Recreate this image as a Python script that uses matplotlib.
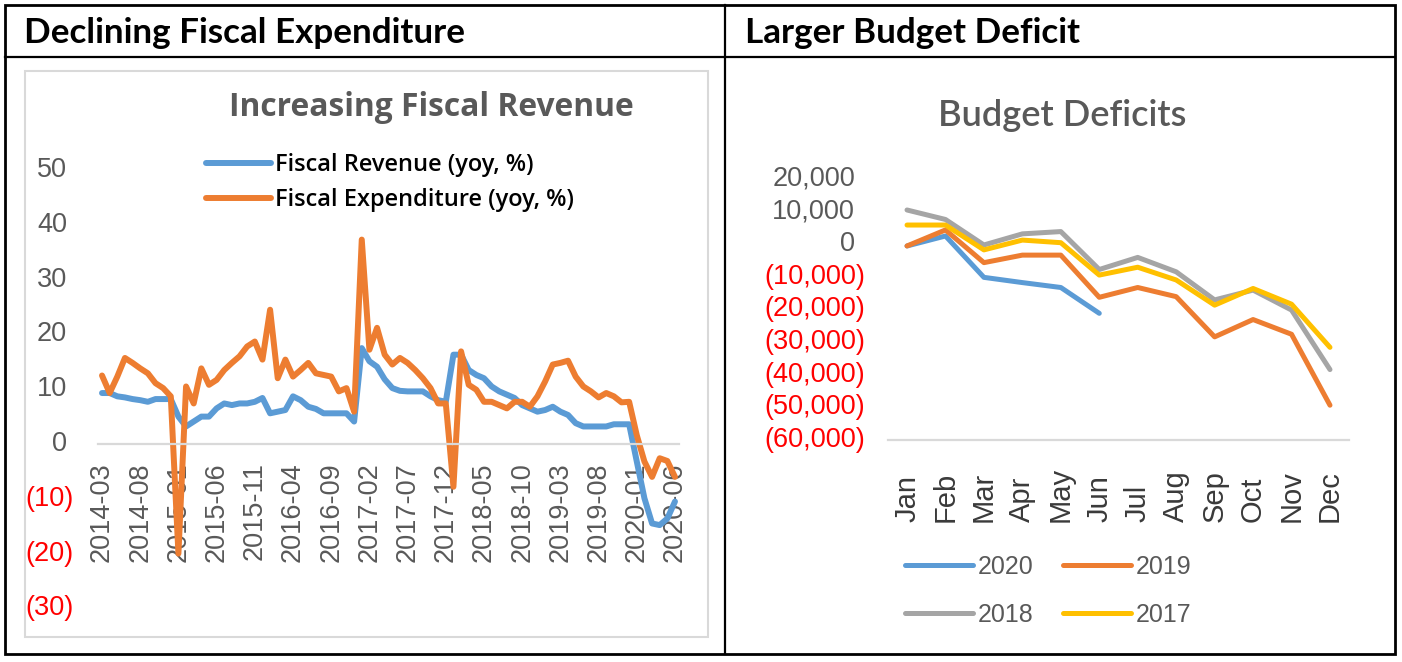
import matplotlib
matplotlib.use("Agg")
import matplotlib.pyplot as plt
from matplotlib.patches import Rectangle
from matplotlib.lines import Line2D

# ---------------- data ----------------
months = []
for y in range(2014, 2021):
    for m in range(1, 13):
        if (y == 2014 and m < 3) or (y == 2020 and m > 6):
            continue
        months.append(f"{y}-{m:02d}")

revenue = [9.3, 9.3, 8.7, 8.5, 8.2, 8.0, 7.7, 8.2, 8.2, 8.2,
           5.0, 3.2, 4.1, 5.0, 5.0, 6.5, 7.4, 7.1, 7.4, 7.4,
           7.7, 8.4, 5.6, 5.9, 6.2, 8.7, 8.0, 6.8, 6.4, 5.6,
           5.6, 5.6, 5.6, 4.1, 17.5, 15.1, 14.1, 11.8, 10.2, 9.7,
           9.6, 9.6, 9.6, 8.7, 8.0, 7.7, 16.3, 16.3, 13.5, 12.6,
           12.0, 10.5, 9.6, 9.0, 8.4, 7.1, 6.5, 5.9, 6.2, 6.8,
           5.9, 5.3, 3.8, 3.2, 3.2, 3.2, 3.2, 3.6, 3.6, 3.6,
           -3.2, -9.9, -14.5, -14.8, -13.6, -10.5]

expenditure = [12.5, 9.3, 12.3, 15.7, 14.8, 13.8, 12.9, 11.1, 10.2, 8.7,
               -20.0, 10.5, 7.4, 13.8, 10.8, 11.7, 13.5, 14.8, 16.0, 17.8,
               18.7, 15.4, 24.5, 12.0, 15.4, 12.3, 13.5, 14.8, 12.9, 12.6,
               12.3, 9.6, 10.2, 5.9, 37.3, 17.2, 21.2, 16.3, 14.5, 15.7,
               14.8, 13.5, 12.0, 10.2, 7.4, 7.4, -7.8, 16.9, 10.8, 9.9,
               7.7, 7.7, 7.1, 6.5, 7.7, 7.7, 6.8, 8.7, 11.4, 14.5,
               14.8, 15.2, 12.3, 10.5, 9.6, 8.5, 9.3, 8.7, 7.6, 7.7,
               1.6, -3.2, -6.0, -2.6, -3.1, -6.0]

left_yticks = [-30, -20, -10, 0, 10, 20, 30, 40, 50]

month_names = ["Jan", "Feb", "Mar", "Apr", "May", "Jun",
               "Jul", "Aug", "Sep", "Oct", "Nov", "Dec"]
deficit_2020 = [-600, 2450, -10200, -11800, -13300, -21200]
deficit_2019 = [-600, 4300, -5700, -3400, -3400, -16300, -13300, -16100,
                -28400, -23100, -27600, -49300]
deficit_2018 = [10400, 7500, -300, 3100, 3800, -7800, -4100, -8500,
                -17100, -14100, -20200, -38400]
deficit_2017 = [5800, 5800, -1800, 1200, 400, -9500, -7100, -11000,
                -18700, -13600, -18400, -31600]
right_yticks = [-60000, -50000, -40000, -30000, -20000, -10000, 0, 10000, 20000]

# ---------------- style ----------------
W, H = 1402, 662
BLUE, ORANGE, GRAY, YELLOW = "#5B9BD5", "#ED7D31", "#A5A5A5", "#FFC000"
TXT = "#595959"
RED = "#FF0000"
AX_LINE = "#D9D9D9"
TICK_FONT = ["Liberation Sans", "DejaVu Sans"]
UI_FONT = ["Lato", "DejaVu Sans"]
WIDE_FONT = ["Open Sans", "DejaVu Sans"]

fig = plt.figure(figsize=(W / 100, H / 100), dpi=100)


def fx(x):
    return x / W


def fy(y):
    return 1 - y / H


def add_axes_px(x0, y0, x1, y1):
    return fig.add_axes([fx(x0), fy(y1), fx(x1) - fx(x0), fy(y0) - fy(y1)])


# ---- table borders ----
fig.add_artist(Rectangle((fx(5), fy(654)), fx(1395) - fx(5), fy(5) - fy(654),
                         transform=fig.transFigure, fill=False,
                         edgecolor="black", lw=2.0))
fig.add_artist(Line2D([fx(5), fx(1395)], [fy(57), fy(57)],
                      transform=fig.transFigure, color="black", lw=1.6))
fig.add_artist(Line2D([fx(725), fx(725)], [fy(5), fy(654)],
                      transform=fig.transFigure, color="black", lw=1.6))

fig.text(fx(24), fy(33), "Declining Fiscal Expenditure", family=UI_FONT,
         weight="bold", fontsize=25.2, color="black", ha="left", va="center")
fig.text(fx(745), fy(33), "Larger Budget Deficit", family=UI_FONT,
         weight="bold", fontsize=25.2, color="black", ha="left", va="center")

# left chart area box
fig.add_artist(Rectangle((fx(25), fy(637)), fx(708) - fx(25), fy(71) - fy(637),
                         transform=fig.transFigure, fill=False,
                         edgecolor=AX_LINE, lw=1.5))

# ---------------- left chart ----------------
axL = add_axes_px(98.2, 170, 678.8, 608.4)
xs = list(range(len(months)))
lr, = axL.plot(xs, revenue, color=BLUE, lw=4.3, solid_joinstyle="round",
               solid_capstyle="round", label="Fiscal Revenue (yoy, %)")
le, = axL.plot(xs, expenditure, color=ORANGE, lw=4.3, solid_joinstyle="round",
               solid_capstyle="round", label="Fiscal Expenditure (yoy, %)")
axL.set_xlim(-0.5, len(months) - 0.5)
axL.set_ylim(-30, 50)
for s in ["top", "right", "left"]:
    axL.spines[s].set_visible(False)
axL.spines["bottom"].set_position(("data", 0))
axL.spines["bottom"].set_color(AX_LINE)
axL.spines["bottom"].set_linewidth(1.6)
axL.set_yticks(left_yticks)
axL.set_yticklabels([])
axL.tick_params(axis="y", length=0)
tick_idx = list(range(0, len(months), 5))
axL.set_xticks(tick_idx)
axL.set_xticklabels([months[i] for i in tick_idx], rotation=90,
                    family=TICK_FONT, fontsize=19.5, color=TXT)
axL.tick_params(axis="x", length=0, pad=13)
ytr = axL.get_yaxis_transform()
for v in left_yticks:
    if v < 0:
        axL.text(-0.0417, v, f"({abs(v)})", transform=ytr, ha="right",
                 va="center", family=TICK_FONT, fontsize=19.5, color=RED)
    else:
        axL.text(-0.0537, v, f"{v}", transform=ytr, ha="right",
                 va="center", family=TICK_FONT, fontsize=19.5, color=TXT)

fig.text(fx(431), fy(108), "Increasing Fiscal Revenue", family=WIDE_FONT,
         weight="bold", fontsize=22.9, color=TXT, ha="center", va="center")

legL = fig.legend(handles=[lr, le], loc="upper left",
                  bbox_to_anchor=(fx(206), fy(153)), frameon=False,
                  prop={"family": WIDE_FONT, "size": 17, "weight": "semibold"},
                  handlelength=2.75, handletextpad=0.17, labelspacing=0.48,
                  borderpad=0, borderaxespad=0)
for t in legL.get_texts():
    t.set_color("black")

# ---------------- right chart ----------------
axR = add_axes_px(887.8, 178.6, 1349.2, 440.2)
xr = list(range(12))
h20, = axR.plot(xr[:len(deficit_2020)], deficit_2020, color=BLUE, lw=3.6,
                solid_joinstyle="round", solid_capstyle="round", label="2020")
h19, = axR.plot(xr, deficit_2019, color=ORANGE, lw=3.6,
                solid_joinstyle="round", solid_capstyle="round", label="2019")
h18, = axR.plot(xr, deficit_2018, color=GRAY, lw=3.6,
                solid_joinstyle="round", solid_capstyle="round", label="2018")
h17, = axR.plot(xr, deficit_2017, color=YELLOW, lw=3.6,
                solid_joinstyle="round", solid_capstyle="round", label="2017")
axR.set_xlim(-0.5, 11.5)
axR.set_ylim(-60000, 20000)
for s in ["top", "right", "left"]:
    axR.spines[s].set_visible(False)
axR.spines["bottom"].set_color(AX_LINE)
axR.spines["bottom"].set_linewidth(1.6)
axR.set_yticks(right_yticks)
axR.set_yticklabels([])
axR.tick_params(axis="y", length=0)
axR.set_xticks(xr)
axR.set_xticklabels(month_names, rotation=90, family=TICK_FONT,
                    fontsize=21, color="#3A3A3A")
for lab in axR.get_xticklabels():
    lab.set_va("bottom")
axR.tick_params(axis="x", length=0, pad=59)
ytr = axR.get_yaxis_transform()
for v in right_yticks:
    if v < 0:
        axR.text(-0.0494, v, f"({abs(v):,})", transform=ytr, ha="right",
                 va="center", family=TICK_FONT, fontsize=19.5, color=RED)
    else:
        axR.text(-0.0711, v, f"{v:,}", transform=ytr, ha="right",
                 va="center", family=TICK_FONT, fontsize=19.5, color=TXT)

fig.text(fx(1062), fy(116), "Budget Deficits", family=UI_FONT,
         weight="semibold", fontsize=26, color=TXT, ha="center", va="center")

legR = fig.legend(handles=[h20, h18, h19, h17], ncol=2, loc="upper left",
                  bbox_to_anchor=(fx(905), fy(555)), frameon=False,
                  prop={"family": TICK_FONT, "size": 18},
                  handlelength=2.7, handletextpad=0.2, labelspacing=0.95,
                  columnspacing=1.2, borderpad=0, borderaxespad=0)
for t in legR.get_texts():
    t.set_color(TXT)

fig.savefig("out.png", dpi=100)
